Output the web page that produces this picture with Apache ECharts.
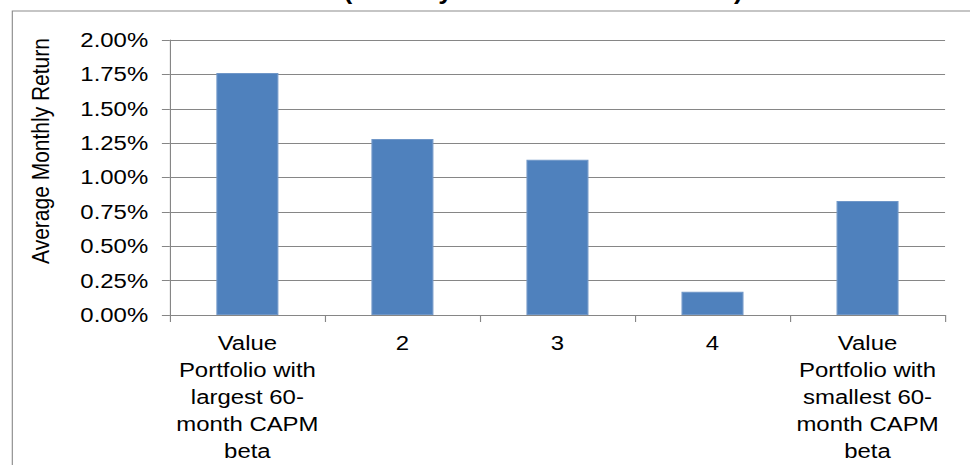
<!DOCTYPE html>
<html><head><meta charset="utf-8">
<script src="https://cdn.jsdelivr.net/npm/echarts@6/dist/echarts.min.js"></script>
<style>
html,body{margin:0;padding:0;overflow:hidden;background:#fff;width:970px;height:465px}
#wrap{width:970px;height:465px;overflow:hidden;position:relative}
#chart{width:851px;height:465px;transform:scaleX(1.14);transform-origin:0 0;}
</style></head>
<body><div id="wrap"><div id="chart"></div></div>
<script>
const categories = [
  'Value\nPortfolio with\nlargest 60-\nmonth CAPM\nbeta',
  '2',
  '3',
  '4',
  'Value\nPortfolio with\nsmallest 60-\nmonth CAPM\nbeta'
];
const avgMonthlyReturn = [0.0176, 0.0128, 0.0113, 0.0017, 0.0083];
const yMin = 0;
const yMax = 0.02;
const yStep = 0.0025;
const yAxisTitle = 'Average Monthly Return';
const chartTitle = 'Returns (January 1970 - December 2010)';

const FONT = 'Arial, "Liberation Sans", sans-serif';
const GRAY = '#868686';
const chart = echarts.init(document.getElementById('chart'), null, {renderer: 'svg'});
chart.setOption({
  animation: false,
  backgroundColor: '#fff',
  grid: {left: 149, right: 22, top: 40, bottom: 150, containLabel: false},
  xAxis: {
    type: 'category',
    data: categories,
    axisLine: {show: true, lineStyle: {color: GRAY, width: 1}},
    axisTick: {show: true, length: 7, alignWithLabel: false, lineStyle: {color: GRAY}},
    axisLabel: {interval: 0, margin: 15, color: '#000', fontFamily: FONT, fontSize: 21, lineHeight: 27, align: 'center'}
  },
  yAxis: {
    type: 'value',
    min: yMin, max: yMax, interval: yStep,
    axisLine: {show: true, lineStyle: {color: GRAY, width: 1}},
    axisTick: {show: true, length: 7, lineStyle: {color: GRAY}},
    splitLine: {show: true, lineStyle: {color: GRAY, width: 1}},
    axisLabel: {margin: 19, color: '#000', fontFamily: FONT, fontSize: 21,
      formatter: v => (v * 100).toFixed(2) + '%'}
  },
  series: [{
    type: 'bar',
    data: avgMonthlyReturn,
    barWidth: '40%',
    itemStyle: {color: '#4F81BD', borderColor: '#7097C8', borderWidth: 1}
  }],
  graphic: [
    {type: 'rect', silent: true, shape: {x: 10.8, y: 11, width: 3000, height: 3000},
     style: {fill: 'none', stroke: '#8c8c8c', lineWidth: 1}},
    {type: 'text', silent: true, x: 208, y: -9,
     style: {text: chartTitle, fill: '#000', font: 'bold 23px ' + FONT, textAlign: 'left', textVerticalAlign: 'middle', verticalAlign: 'middle'}},
    {type: 'text', silent: true, x: 36, y: 151, rotation: Math.PI / 2,
     style: {text: yAxisTitle, fill: '#000', font: '21px ' + FONT, textAlign: 'center', textVerticalAlign: 'middle', align: 'center', verticalAlign: 'middle'}}
  ]
});
</script>
</body></html>
